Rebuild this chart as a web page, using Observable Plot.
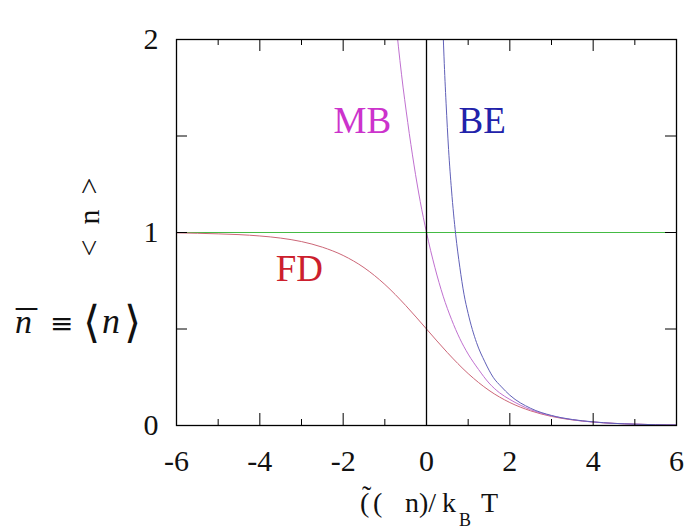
<!DOCTYPE html>
<html><head><meta charset="utf-8">
<script src="https://cdn.jsdelivr.net/npm/d3@7"></script>
<script src="https://cdn.jsdelivr.net/npm/@observablehq/plot@0.6"></script>
<style>body{margin:0;background:#fff;} svg{display:block;}</style>
</head><body><div id="chart"></div>
<script>
// values
const fdX = [-6,-5.5,-5,-4.5,-4,-3.5,-3,-2.5,-2,-1.5,-1,-0.5,0,0.5,1,1.5,2,2.5,3,3.5,4,4.5,5,5.5,6];
const fdY = [0.998,0.996,0.993,0.989,0.982,0.971,0.953,0.924,0.881,0.818,0.731,0.622,0.5,0.378,0.269,0.182,0.119,0.076,0.047,0.029,0.018,0.011,0.007,0.004,0.0025];
const mbX = [-0.75,-0.6,-0.45,-0.3,-0.15,0,0.2,0.4,0.6,0.8,1,1.25,1.5,1.75,2,2.5,3,3.5,4,4.5,5,5.5,6];
const mbY = [2.12,1.82,1.57,1.35,1.16,1.0,0.82,0.67,0.55,0.45,0.37,0.29,0.22,0.17,0.135,0.082,0.05,0.03,0.018,0.011,0.007,0.004,0.0025];
const beX = [0.38,0.42,0.47,0.53,0.6,0.7,0.8,0.9,1,1.2,1.4,1.6,1.8,2,2.5,3,3.5,4,4.5,5,5.5,6];
const beY = [2.15,1.91,1.67,1.43,1.22,0.99,0.82,0.68,0.58,0.43,0.33,0.25,0.2,0.157,0.089,0.052,0.031,0.019,0.011,0.007,0.004,0.0025];
const refLineY = [1];
const zeroLineX = [0];
const xTickLabels = [-6,-4,-2,0,2,4,6];
const xMinorTicks = [-5,-3,-1,1,3,5];
const yTickLabels = [0,1,2];
const yTicks = [0.5,1,1.5];
const curveLabels = ["MB","BE","FD"];
const labelX = [-2.23,0.77,-3.62];
const labelY = [1.513,1.513,0.751];
const labelColors = ["#cc33cc","#2222aa","#cc1f2e"];

const fd = fdX.map((x,i)=>({x, y: fdY[i]}));
const mb = mbX.map((x,i)=>({x, y: mbY[i]}));
const be = beX.map((x,i)=>({x, y: beY[i]}));
const labels = curveLabels.map((t,i)=>({t, x: labelX[i], y: labelY[i], c: labelColors[i]}));

const W = 686, H = 529, mL = 176, mR = 10, mT = 39, mB = 104;
const iw = W - mL - mR, ih = H - mT - mB;
const font = "'Liberation Serif', 'Times New Roman', serif";

const plot = Plot.plot({
  width: W, height: H,
  marginLeft: mL, marginRight: mR, marginTop: mT, marginBottom: mB,
  style: {fontFamily: font, background: "#fff", color: "#111"},
  x: {domain: [-6, 6]},
  y: {domain: [0, 2]},
  marks: [
    Plot.ruleY(refLineY, {y: d=>d, stroke: "#44bb44", strokeWidth: 1.2}),
    Plot.line(fd, {x: "x", y: "y", stroke: "#cc6677", strokeWidth: 1, curve: "monotone-x", clip: true}),
    Plot.line(mb, {x: "x", y: "y", stroke: "#c070d0", strokeWidth: 1, curve: "monotone-x", clip: true}),
    Plot.line(be, {x: "x", y: "y", stroke: "#6060b8", strokeWidth: 1, curve: "monotone-x", clip: true}),
    Plot.ruleX(zeroLineX, {x: d=>d, stroke: "#000", strokeWidth: 1.3}),
    // inward ticks
    Plot.tickX(xTickLabels, {x: d=>d, insetTop: ih - 12, stroke: "#000"}),
    Plot.tickX(xTickLabels, {x: d=>d, insetBottom: ih - 12, stroke: "#000"}),
    Plot.tickX(xMinorTicks, {x: d=>d, insetTop: ih - 6, stroke: "#000"}),
    Plot.tickX(xMinorTicks, {x: d=>d, insetBottom: ih - 6, stroke: "#000"}),
    Plot.tickY(yTicks, {y: d=>d, insetRight: iw - 11, stroke: "#000"}),
    Plot.tickY(yTicks, {y: d=>d, insetLeft: iw - 11, stroke: "#000"}),
    Plot.frame({stroke: "#000", strokeWidth: 1.3}),
    Plot.axisX(xTickLabels, {tickSize: 0, tickPadding: 24, fontSize: 30, tickFormat: d=>String(d), fill: "#111", label: null}),
    Plot.axisY(yTickLabels, {tickSize: 0, tickPadding: 18, fontSize: 30, tickFormat: d=>String(d), fill: "#111", label: null}),
    Plot.text(labels, {x: "x", y: "y", text: "t", fill: "c", fontSize: 37, textAnchor: "start", lineAnchor: "bottom"})
  ]
});
document.getElementById("chart").appendChild(plot);

const svg = d3.select(plot);
// y-axis labels
svg.append("text")
  .attr("transform", "translate(99,217) rotate(-90)")
  .attr("text-anchor", "middle")
  .attr("font-family", font).attr("font-size", 30).attr("fill", "#111")
  .attr("xml:space", "preserve")
  .text("<  n  >");
const t2 = svg.append("text")
  .attr("y", 333).attr("text-anchor", "start")
  .attr("font-family", font).attr("font-size", 34).attr("fill", "#111");
t2.append("tspan").attr("x", 15).attr("font-style", "italic").text("n");
t2.append("tspan").attr("x", 50).attr("font-family", "'DejaVu Serif', serif").attr("font-size", 28).text("\u2261");
t2.append("tspan").attr("x", 83).attr("font-family", "'DejaVu Serif', serif").attr("font-size", 44).attr("dy", 4).text("\u27E8");
t2.append("tspan").attr("x", 102).attr("dy", -4).attr("font-style", "italic").attr("font-size", 36).text("n");
t2.append("tspan").attr("x", 124).attr("font-family", "'DejaVu Serif', serif").attr("font-size", 44).attr("dy", 4).text("\u27E9");
// overbar of n-bar
svg.append("text")
  .attr("x", 16).attr("y", 340).attr("text-anchor", "start")
  .attr("font-family", font).attr("font-size", 42).attr("fill", "#111")
  .text("\u00AF");
// x-axis label
const t3 = svg.append("text")
  .attr("y", 512).attr("text-anchor", "start")
  .attr("font-family", font).attr("font-size", 28).attr("fill", "#111");
t3.append("tspan").attr("x", 360).text("(");
t3.append("tspan").attr("x", 362).attr("dy", -7).text("\u02DC");
t3.append("tspan").attr("x", 373).attr("dy", 7).text("(");
t3.append("tspan").attr("x", 405).text("n)/");
t3.append("tspan").attr("x", 442).text("k");
t3.append("tspan").attr("x", 459).attr("dy", 14).attr("font-size", 18).text("B");
t3.append("tspan").attr("x", 481).attr("dy", -14).text("T");
</script>
</body></html>
